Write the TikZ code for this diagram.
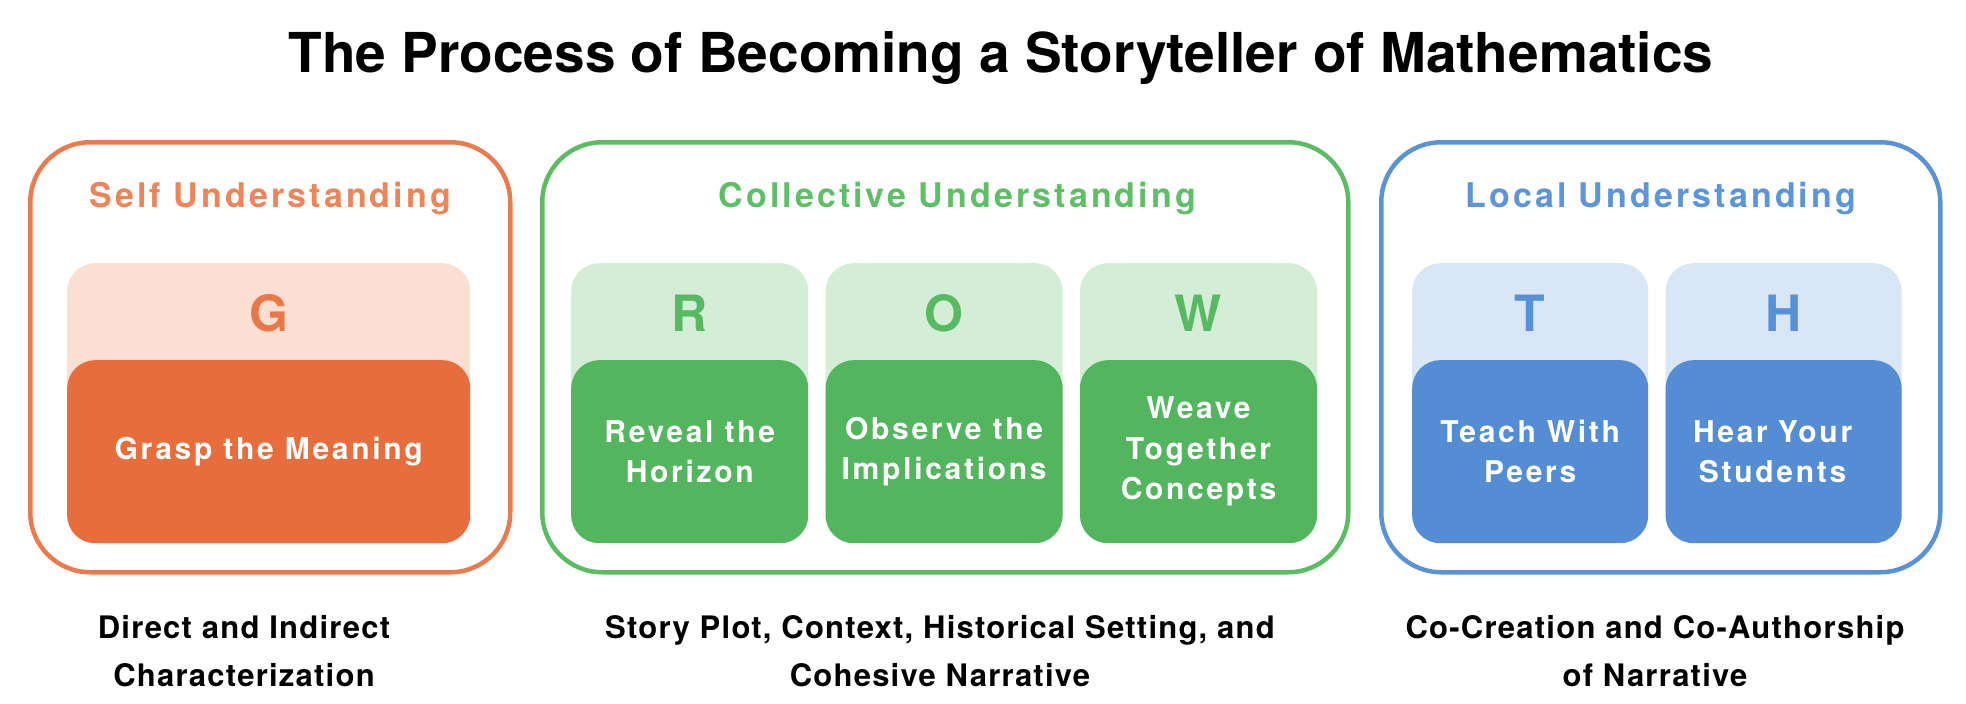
\documentclass[tikz,border=0pt]{standalone}
\usepackage{fontspec}
\setmainfont{TeX Gyre Heros}
\newfontfamily\widefont[LetterSpace=9]{TeX Gyre Heros}
\newfontfamily\capfont[LetterSpace=4]{TeX Gyre Heros}
\usetikzlibrary{positioning}

\definecolor{orangeL}{HTML}{E97B4C}
\definecolor{orangeT}{HTML}{EE8559}
\definecolor{orangeD}{HTML}{E76E3C}
\definecolor{orangeP}{HTML}{FADFD2}
\definecolor{orangeG}{HTML}{EA7748}
\definecolor{greenL}{HTML}{5BBD62}
\definecolor{greenT}{HTML}{5FBF67}
\definecolor{greenD}{HTML}{53B55E}
\definecolor{greenP}{HTML}{D3EDD6}
\definecolor{greenG}{HTML}{58B963}
\definecolor{blueL}{HTML}{5A92D7}
\definecolor{blueT}{HTML}{5C95DA}
\definecolor{blueD}{HTML}{548DD4}
\definecolor{blueP}{HTML}{D9E6F5}
\definecolor{blueG}{HTML}{5690D6}

\begin{document}
\begin{tikzpicture}[
  x=1pt, y=-1pt, node distance=17pt,
  group/.style={draw=#1, line width=4.5pt, rounded corners=60pt, anchor=north west,
                inner sep=0pt, minimum height=430pt},
  grouptitle/.style={anchor=base, inner sep=0pt, text=#1,
                     font=\fontsize{34}{40}\selectfont\widefont\bfseries},
  tab/.style={fill=#1, rounded corners=28pt, anchor=north west, inner sep=0pt,
              minimum height=280pt},
  letter/.style={anchor=base, inner sep=0pt, text=#1,
                 font=\fontsize{50}{60}\selectfont\bfseries},
  card/.style={fill=#1, rounded corners=28pt, anchor=south, inner sep=0pt,
               minimum height=183pt, text=white, align=center,
               font=\fontsize{30}{40.5}\selectfont\widefont\bfseries},
  caption/.style={anchor=north, inner sep=0pt, align=center,
                  font=\fontsize{31}{48}\selectfont\capfont\bfseries}]
  \useasboundingbox (0,0) rectangle (1966,704);

  \node[anchor=base, inner sep=0pt, font=\fontsize{55}{66}\selectfont\bfseries]
    (title) at (1001,72) {The Process of Becoming a Storyteller of Mathematics};

  % self understanding
  \node[group=orangeL, minimum width=480pt] (self) at (28,140) {};
  \node[grouptitle=orangeT] (selfttl) at ([yshift=-67pt]self.north) {Self Understanding};
  \node[tab=orangeP, minimum width=403pt] (g) at (67,263) {};
  \node[letter=orangeG] (gl) at ([yshift=-68pt]g.north) {G};
  \node[card=orangeD, minimum width=403pt] (gm) at (g.south) {Grasp the Meaning};

  % collective understanding
  \node[group=greenL, minimum width=806pt] (coll) at (540,140) {};
  \node[grouptitle=greenT] (collttl) at ([xshift=12pt, yshift=-67pt]coll.north) {Collective Understanding};
  \node[tab=greenP, minimum width=237pt] (r) at (571,263) {};
  \node[tab=greenP, minimum width=237pt, right=of r] (o) {};
  \node[tab=greenP, minimum width=237pt, right=of o] (w) {};
  \node[letter=greenG] (rl) at ([yshift=-68pt]r.north) {R};
  \node[letter=greenG] (ol) at ([yshift=-68pt]o.north) {O};
  \node[letter=greenG] (wl) at ([yshift=-68pt]w.north) {W};
  \node[card=greenD, minimum width=237pt] (rm) at (r.south) {Reveal the\\Horizon};
  \node[card=greenD, minimum width=237pt] (om) at (o.south) {Observe the\\Implications};
  \node[card=greenD, minimum width=237pt] (wm) at (w.south) {Weave\\Together\\Concepts};

  % local understanding
  \node[group=blueL, minimum width=559pt] (local) at (1379,140) {};
  \node[grouptitle=blueT] (localttl) at ([yshift=-67pt]local.north) {Local Understanding};
  \node[tab=blueP, minimum width=236pt] (t) at (1412,263) {};
  \node[tab=blueP, minimum width=236pt, right=of t] (h) {};
  \node[letter=blueG] (tl) at ([yshift=-68pt]t.north) {T};
  \node[letter=blueG] (hl) at ([yshift=-68pt]h.north) {H};
  \node[card=blueD, minimum width=236pt] (tm) at (t.south) {Teach With\\Peers};
  \node[card=blueD, minimum width=236pt, text width=236pt] (hm) at (h.south)
    {\hspace*{-22pt}Hear Your\\\hspace*{-22pt}Students};

  % captions
  \node[caption] (selfcap) at (244,615) {Direct and Indirect\\Characterization};
  \node[caption] (collcap) at (940,615) {Story Plot, Context, Historical Setting, and\\Cohesive Narrative};
  \node[caption] (localcap) at (1655,615) {Co-Creation and Co-Authorship\\of Narrative};
\end{tikzpicture}
\end{document}
